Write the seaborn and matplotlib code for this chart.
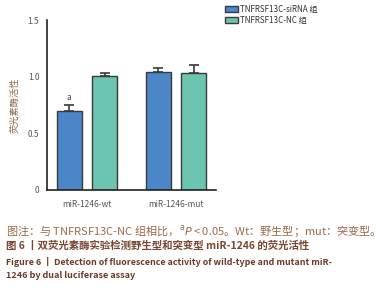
import numpy as np
import pandas as pd
import matplotlib
matplotlib.use("Agg")
import matplotlib.pyplot as plt
import seaborn as sns
from matplotlib.patches import Patch

# values
groups = ["miR-1246-wt", "miR-1246-mut"]
series = ["TNFRSF13C-siRNA 组", "TNFRSF13C-NC 组"]
sirna_mean = [0.70, 1.04]
sirna_err = [0.05, 0.035]
nc_mean = [1.01, 1.03]
nc_err = [0.02, 0.07]
y_ticks = [0, 0.5, 1.0, 1.5]
y_tick_labels = ["0", "0.5", "1.0", "1.5"]

df = pd.DataFrame({
    "group": groups * 2,
    "series": [series[0]] * 2 + [series[1]] * 2,
    "value": sirna_mean + nc_mean,
})
errs = [sirna_err, nc_err]

sns.set_style("white")
plt.rcParams["font.family"] = ["Noto Sans CJK SC", "DejaVu Sans"]

colors = ["#4A86C8", "#6CC5B0"]
edge = "#3a3a3a"

fig = plt.figure(figsize=(3.82, 3.0), dpi=100)
ax = fig.add_axes([0.123, 0.367, 0.442, 0.566])

sns.barplot(data=df, x="group", y="value", hue="series", palette=colors,
            saturation=1, width=0.8, gap=0.3, errorbar=None, edgecolor=edge,
            linewidth=1.0, ax=ax, legend=False)

# upper-only error bars at the bar positions seaborn drew
for cont, err in zip(ax.containers, errs):
    for bar, e in zip(cont, err):
        xc = bar.get_x() + bar.get_width() / 2
        top = bar.get_height()
        ax.errorbar(xc, top, yerr=[[0], [e]], fmt="none", ecolor=edge,
                    elinewidth=1.2, capsize=3.5, capthick=1.2, zorder=1)

# significance mark
b0 = ax.containers[0][0]
ax.text(b0.get_x() + b0.get_width() / 2, sirna_mean[0] + sirna_err[0] + 0.03, "a",
        ha="center", va="bottom", fontsize=6, color="#444444")

ax.set_xlim(-0.45, 1.45)
ax.set_ylim(0, 1.5)
ax.set_yticks(y_ticks)
ax.set_yticklabels(y_tick_labels)
ax.set_xlabel("")
ax.set_ylabel("荧光素酶活性", fontsize=6.7, color="#8a6a50", labelpad=6)
sns.despine(ax=ax)
for s in ["left", "bottom"]:
    ax.spines[s].set_color("#222222")
    ax.spines[s].set_linewidth(1.2)
ax.tick_params(axis="both", direction="out", length=3.5, width=1.2, color="#222222",
               labelsize=6, labelcolor="#555555", pad=2)
ax.tick_params(axis="x", pad=4)

handles = [Patch(facecolor=c, edgecolor=edge, linewidth=1.0) for c in colors]
fig.legend(handles, series, loc="upper left", bbox_to_anchor=(0.577, 1.0),
           frameon=False, handlelength=1.6, handleheight=0.6,
           handletextpad=0.25, labelspacing=0.25, borderaxespad=0.2,
           prop={"family": ["Noto Sans CJK SC", "DejaVu Sans"], "size": 5.8})
for t in fig.legends[0].get_texts():
    t.set_color("#333333")

fig.text(0.016, 0.227, "图注：与 TNFRSF13C-NC 组相比，$^{a}$$\\it{P}$ < 0.05。Wt：野生型；mut：突变型。",
         fontsize=8.0, color="#9a6a48", va="center", ha="left")
fig.text(0.016, 0.18, "图 6 丨双荧光素酶实验检测野生型和突变型 miR-1246 的荧光活性",
         fontsize=7.5, color="#7a4630", va="center", ha="left", fontweight="bold")
fig.text(0.016, 0.127, "Figure 6 丨 Detection of fluorescence activity of wild-type and mutant miR-",
         fontsize=6.4, color="#6a3a26", va="center", ha="left", fontweight="bold")
fig.text(0.016, 0.08, "1246 by dual luciferase assay",
         fontsize=6.5, color="#6a3a26", va="center", ha="left", fontweight="bold")

fig.savefig("out.png", dpi=100, facecolor="white")
